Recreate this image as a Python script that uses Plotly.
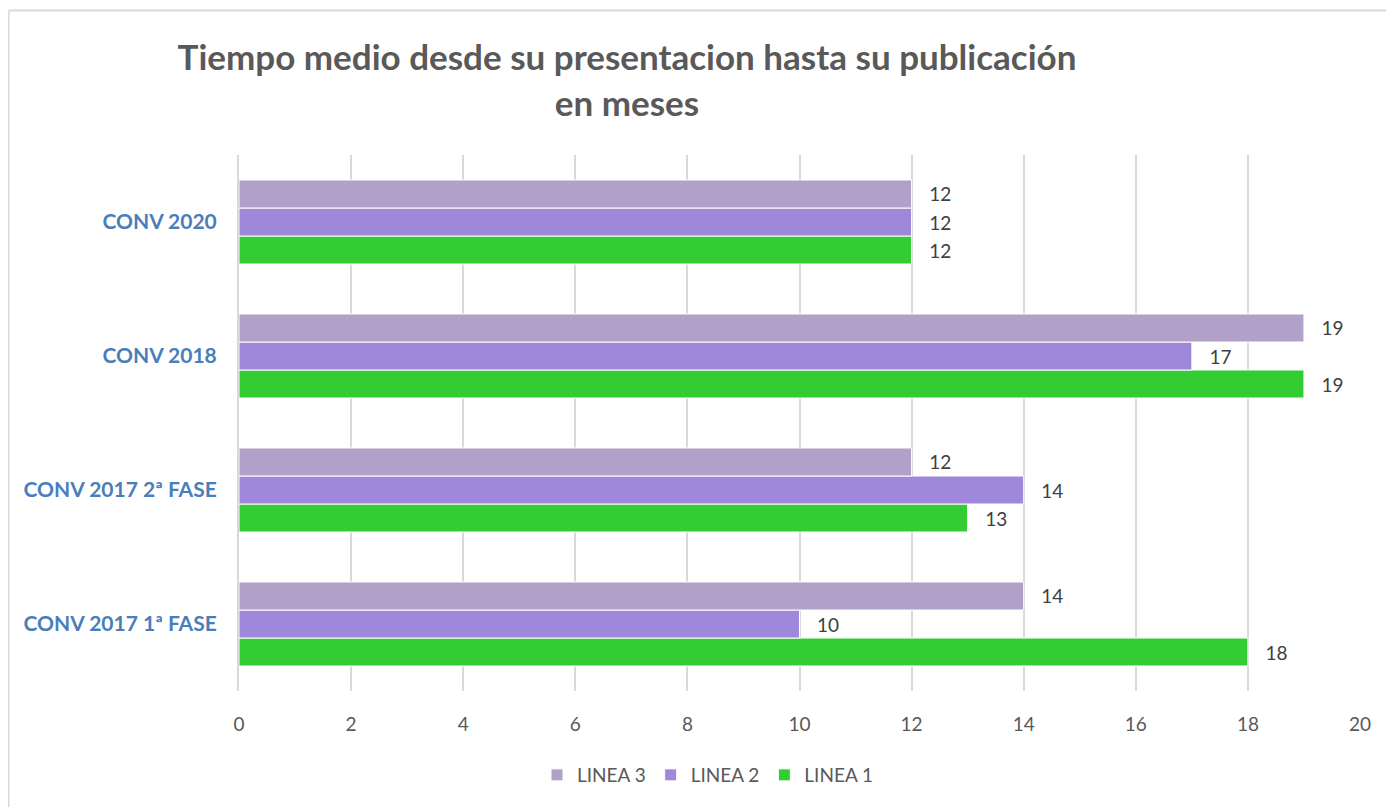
import plotly.graph_objects as go

categories = ["CONV 2017 1ª FASE", "CONV 2017 2ª FASE", "CONV 2018", "CONV 2020"]
linea1 = [18, 13, 19, 12]
linea2 = [10, 14, 17, 12]
linea3 = [14, 12, 19, 12]
series_names = ["LINEA 1", "LINEA 2", "LINEA 3"]
series_colors = ["#33CC33", "#9F88D9", "#B1A0C7"]
x_ticks = [0, 2, 4, 6, 8, 10, 12, 14, 16, 18, 20]

W, H = 1386, 799
L, R, T, B = 231, 34, 147, 116
PW, PH = W - L - R, H - T - B

fig = go.Figure()
for name, vals, col in zip(series_names, [linea1, linea2, linea3], series_colors):
    fig.add_trace(go.Bar(
        y=categories, x=vals, name=name, orientation="h",
        marker=dict(color=col, line=dict(color="white", width=1)),
        text=["\u00a0\u00a0\u00a0" + str(v) for v in vals], textposition="outside",
        textfont=dict(family="Lato", size=19, color="#404040"),
        cliponaxis=False,
    ))

fig.update_layout(
    width=W, height=H,
    paper_bgcolor="white", plot_bgcolor="white",
    margin=dict(l=L, r=R, t=T, b=B),
    barmode="group", bargap=0.373, bargroupgap=0,
    title=dict(
        text="<b>Tiempo medio desde su presentacion hasta su publicación<br>en meses</b>",
        x=619 / W, xanchor="center", xref="container",
        y=1 - 62 / H, yanchor="middle", yref="container",
        font=dict(family="Lato", size=35, color="#595959"),
    ),
    xaxis=dict(
        range=[0, 20], tickvals=x_ticks, showgrid=True, gridcolor="#D9D9D9", gridwidth=2,
        zeroline=False, showline=False,
        tickfont=dict(family="Lato", size=19, color="#595959"),
        ticks="", ticklabelstandoff=20,
    ),
    yaxis=dict(
        tickvals=categories, ticktext=["<b>" + c + "</b>" for c in categories],
        tickfont=dict(family="Lato", size=21, color="#4A7EBB"),
        showline=True, linecolor="#D9D9D9", linewidth=2,
        showgrid=False, ticks="", ticklabelstandoff=16,
        range=[-0.5, 3.5],
    ),
    legend=dict(
        orientation="h", traceorder="reversed",
        x=700 / W, xanchor="center", xref="container",
        y=1 - 767 / H, yanchor="middle", yref="container",
        font=dict(family="Lato", size=19, color="#595959"),
    ),
    showlegend=True,
)
# figure border (top and left)
top_y = (H - B - 2.5) / PH
left_x = -(L - 0.5) / PW
fig.add_shape(type="line", xref="paper", yref="paper",
              x0=left_x, x1=(W - L) / PW, y0=top_y, y1=top_y,
              line=dict(color="#D9D9D9", width=2))
fig.add_shape(type="line", xref="paper", yref="paper",
              x0=left_x, x1=left_x, y0=-B / PH, y1=top_y,
              line=dict(color="#D9D9D9", width=2))

fig.write_html("out.html")
